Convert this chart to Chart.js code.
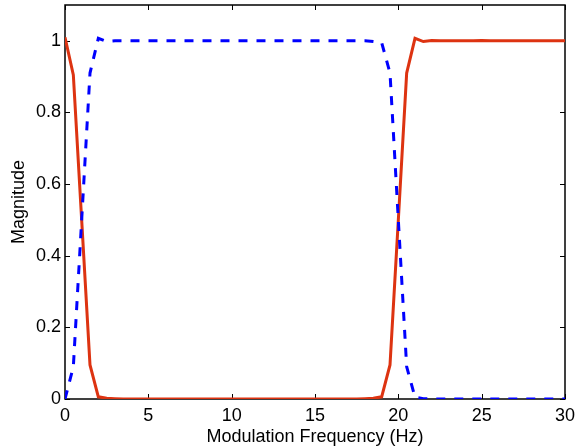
<!DOCTYPE html>
<html>
<head>
<meta charset="utf-8">
<script src="https://cdn.jsdelivr.net/npm/chart.js@4/dist/chart.umd.min.js"></script>
<style>
  html, body { margin: 0; padding: 0; background: #fff; }
  #wrap { width: 575px; height: 448px; }
</style>
</head>
<body>
<div id="wrap"><canvas id="chart" width="575" height="448"></canvas></div>
<script>
// modulation frequency, Hz (0.5 Hz steps)
const freqHz = [
	0, 0.5, 1, 1.5, 2, 2.5, 3, 3.5, 4, 4.5, 5, 5.5, 6, 6.5, 7, 7.5, 8, 8.5, 9, 9.5,
	10, 10.5, 11, 11.5, 12, 12.5, 13, 13.5, 14, 14.5, 15, 15.5, 16, 16.5, 17, 17.5, 18, 18.5, 19, 19.5,
	20, 20.5, 21, 21.5, 22, 22.5, 23, 23.5, 24, 24.5, 25, 25.5, 26, 26.5, 27, 27.5, 28, 28.5, 29, 29.5, 30
];
// red solid curve
const lowHighMag = [
	1.01, 0.905, 0.5, 0.095, 0.006, 0.002, 0.001, 0, 0, 0, 0, 0, 0, 0, 0, 0, 0, 0, 0, 0,
	0, 0, 0, 0, 0, 0, 0, 0, 0, 0, 0, 0, 0, 0, 0, 0, 0.001, 0.002, 0.006, 0.095,
	0.5, 0.91, 1.007, 0.998, 1.001, 1.0, 1.0, 1.0, 1.0, 1.0, 1.001, 1.0, 1.0, 1.0, 1.0, 1.0, 1.0, 1.0, 1.0, 1.0, 1.0
];
// blue dashed curve
const bandMag = [
	0.0, 0.09, 0.5, 0.91, 1.007, 0.998, 1.0, 1.0, 1.0, 1.0, 1.0, 1.0, 1.0, 1.0, 1.0, 1.0, 1.0, 1.0, 1.0, 1.0,
	1.0, 1.0, 1.0, 1.0, 1.0, 1.0, 1.0, 1.0, 1.0, 1.0, 1.0, 1.0, 1.0, 1.0, 1.0, 1.0, 1.0, 0.998, 0.995, 0.91,
	0.5, 0.09, 0.005, 0.001, 0, 0, 0, 0, 0, 0, 0, 0, 0, 0, 0, 0, 0, 0, 0, 0, 0
];
const xTicks = [0, 5, 10, 15, 20, 25, 30];
const yTicks = [0, 0.2, 0.4, 0.6, 0.8, 1];

function toPoints(ys) {
	return freqHz.map((f, i) => ({ x: f, y: ys[i] }));
}

// box round the plot plus inward ticks on every side, matlab style
const boxPlugin = {
	id: 'box',
	beforeDatasetsDraw(chart) {
		const ctx = chart.ctx;
		const a = chart.chartArea;
		const xs = chart.scales.x, ys = chart.scales.y;
		ctx.save();
		ctx.strokeStyle = '#000';
		ctx.lineWidth = 1;
		ctx.beginPath();
		xTicks.forEach(v => {
			const px = Math.round(xs.getPixelForValue(v)) + 0.5;
			ctx.moveTo(px, a.bottom); ctx.lineTo(px, a.bottom - 5);
			ctx.moveTo(px, a.top); ctx.lineTo(px, a.top + 5);
		});
		yTicks.forEach(v => {
			const py = Math.round(ys.getPixelForValue(v)) + 0.5;
			ctx.moveTo(a.left, py); ctx.lineTo(a.left + 5, py);
			ctx.moveTo(a.right, py); ctx.lineTo(a.right - 5, py);
		});
		ctx.stroke();
		ctx.lineWidth = 1.5;
		ctx.strokeRect(a.left, a.top, a.right - a.left, a.bottom - a.top);
		ctx.restore();
	}
};

function init() {
	const font = { family: 'Liberation Sans, Arial, sans-serif', size: 18 };
	const config = {
		type: 'line',
		data: {
			datasets: [
				{
					data: toPoints(lowHighMag),
					borderColor: '#dd3311',
					borderWidth: 3,
					pointRadius: 0,
					tension: 0,
					order: 2
				},
				{
					data: toPoints(bandMag),
					borderColor: '#0000ff',
					borderWidth: 3,
					borderDash: [9, 9],
					pointRadius: 0,
					tension: 0,
					order: 1
				}
			]
		},
		options: {
			responsive: false,
			animation: false,
			layout: { padding: { left: 0, right: 10, top: 5, bottom: 0 } },
			plugins: { legend: { display: false }, tooltip: { enabled: false } },
			scales: {
				x: {
					type: 'linear',
					min: 0,
					max: 30,
					afterFit: s => { s.height = 49; s.paddingLeft = 0; s.paddingRight = 0; },
					afterBuildTicks: s => { s.ticks = xTicks.map(v => ({ value: v })); },
					grid: { display: false, drawTicks: false },
					border: { display: false },
					ticks: { color: '#000', font: font, padding: 6, maxRotation: 0 },
					title: { display: true, text: 'Modulation Frequency (Hz)', color: '#000', font: font, padding: { top: 0, bottom: 0 } }
				},
				y: {
					type: 'linear',
					min: 0,
					max: 1.1,
					afterFit: s => { s.width = 65; s.paddingTop = 0; s.paddingBottom = 0; },
					afterBuildTicks: s => { s.ticks = yTicks.map(v => ({ value: v })); },
					grid: { display: false, drawTicks: false },
					border: { display: false },
					ticks: { color: '#000', font: font, padding: 4, callback: v => String(v) },
					title: { display: true, text: 'Magnitude', color: '#000', font: font, padding: { top: 8, bottom: 0 } }
				}
			}
		},
		plugins: [boxPlugin]
	};
	new Chart(document.getElementById('chart'), config);
}

init();
</script>
</body>
</html>
